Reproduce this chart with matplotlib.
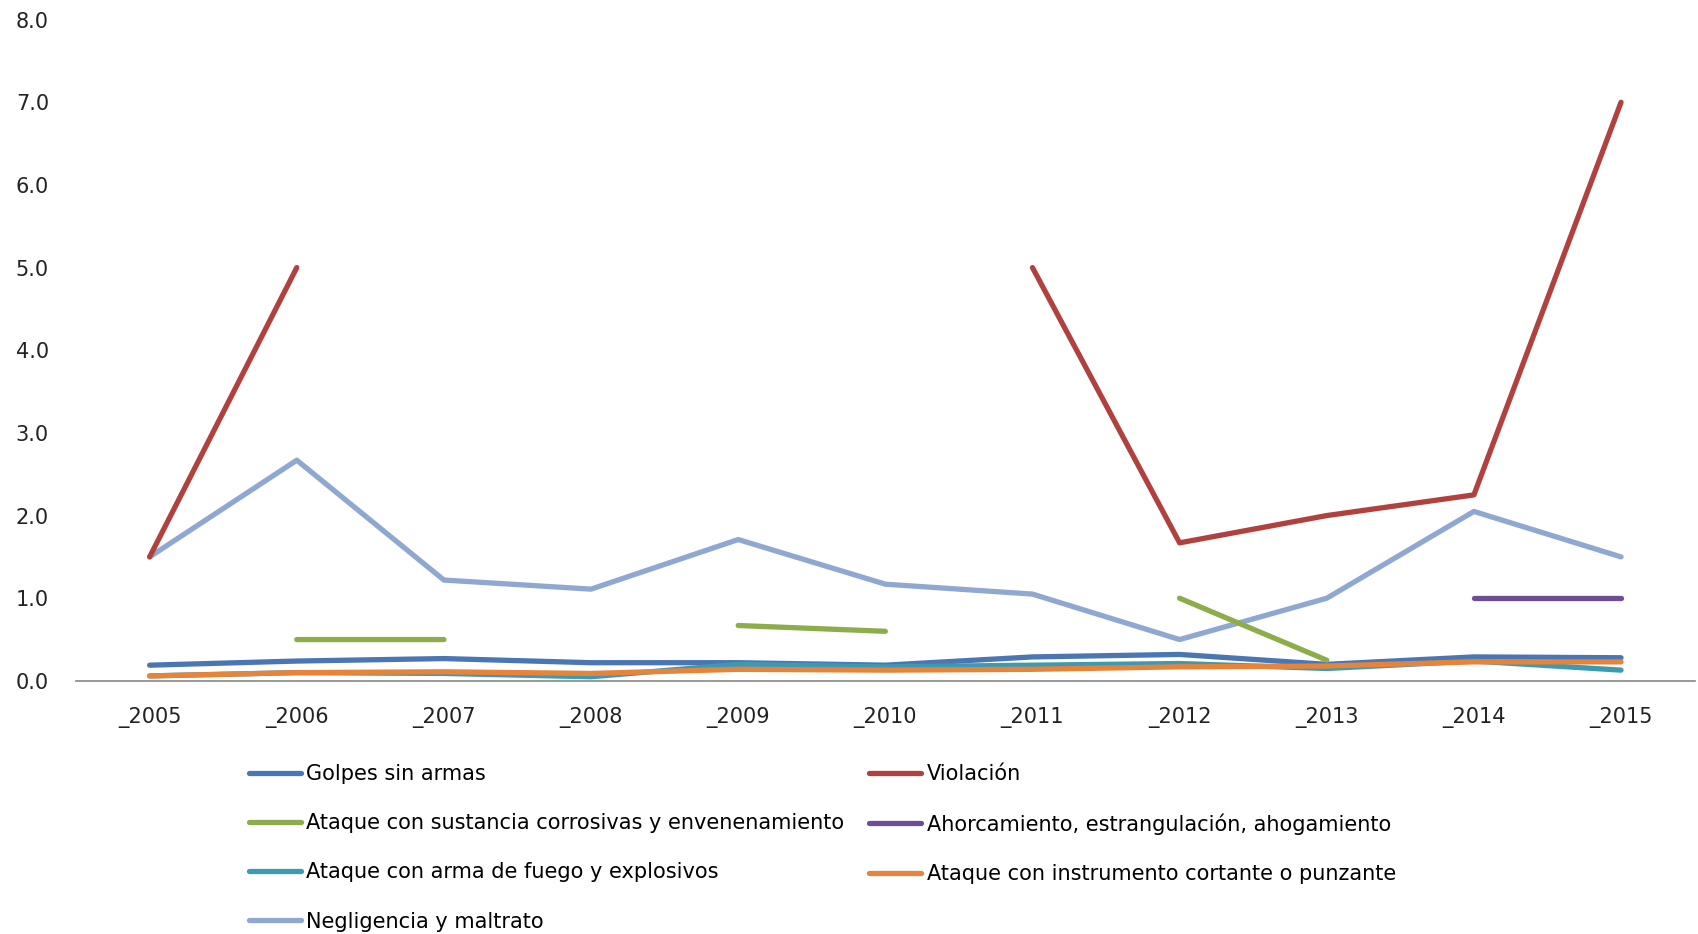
import numpy as np
import matplotlib
matplotlib.use("Agg")
import matplotlib.pyplot as plt

nan = np.nan
years = ["_2005", "_2006", "_2007", "_2008", "_2009", "_2010",
         "_2011", "_2012", "_2013", "_2014", "_2015"]

golpes = [0.19, 0.24, 0.27, 0.22, 0.22, 0.19, 0.29, 0.32, 0.20, 0.29, 0.28]
violacion = [1.50, 5.00, nan, nan, nan, nan, 5.00, 1.67, 2.00, 2.25, 7.00]
corrosivas = [nan, 0.50, 0.50, nan, 0.67, 0.60, nan, 1.00, 0.25, nan, nan]
ahorcamiento = [nan, nan, nan, nan, nan, nan, nan, nan, nan, 1.00, 1.00]
fuego = [0.06, 0.10, 0.09, 0.05, 0.20, 0.17, 0.19, 0.21, 0.15, 0.24, 0.13]
cortante = [0.06, 0.10, 0.11, 0.09, 0.14, 0.13, 0.14, 0.17, 0.18, 0.23, 0.23]
negligencia = [1.50, 2.67, 1.22, 1.11, 1.71, 1.17, 1.05, 0.50, 1.00, 2.05, 1.50]

series = [
    ("Golpes sin armas", golpes, "#4A76B4"),
    ("Violación", violacion, "#B0413E"),
    ("Ataque con sustancia corrosivas y envenenamiento", corrosivas, "#8CAD4A"),
    ("Ahorcamiento, estrangulación, ahogamiento", ahorcamiento, "#6E4D96"),
    ("Ataque con arma de fuego y explosivos", fuego, "#3A9BB3"),
    ("Ataque con instrumento cortante o punzante", cortante, "#E8833A"),
    ("Negligencia y maltrato", negligencia, "#8FA8D1"),
]

plt.rcParams['font.family'] = ['DejaVu Sans']

fig = plt.figure(figsize=(16.98, 9.34), dpi=100)
ax = fig.add_axes([0.0448, 0.271, 0.9532, 0.708])

x = np.arange(len(years))
draw_order = [6, 0, 4, 5, 2, 3, 1]
lines = {}
for i in draw_order:
    name, vals, col = series[i]
    ln, = ax.plot(x, vals, color=col, lw=3.8, label=name,
                  solid_capstyle='round', solid_joinstyle='round')
    lines[i] = ln

ax.set_xlim(-0.5, len(years) - 0.5)
ax.set_ylim(0, 8)
ax.set_yticks(np.arange(0, 8.01, 1.0))
ax.set_yticklabels([f"{v:.1f}" for v in np.arange(0, 8.01, 1.0)])
ax.set_xticks(x)
ax.set_xticklabels(years)
ax.tick_params(axis='both', length=0, labelsize=15, colors='#222222')
ax.tick_params(axis='y', pad=19.5)
ax.tick_params(axis='x', pad=19)
for s in ['top', 'right', 'left']:
    ax.spines[s].set_visible(False)
ax.spines['bottom'].set_color('#888888')
ax.spines['bottom'].set_linewidth(1.2)

# legend filled row-wise: column 1 = 0,2,4,6 ; column 2 = 1,3,5
leg_order = [0, 2, 4, 6, 1, 3, 5]
handles = [lines[i] for i in leg_order]
labels = [series[i][0] for i in leg_order]
fig.legend(handles, labels, loc='upper left', bbox_to_anchor=(0.1466, 0.182),
           ncol=2, frameon=False, fontsize=15, handlelength=2.5,
           handletextpad=0.25, columnspacing=1.2, labelspacing=1.4,
           borderpad=0, borderaxespad=0)

fig.savefig("out.png", dpi=100)
